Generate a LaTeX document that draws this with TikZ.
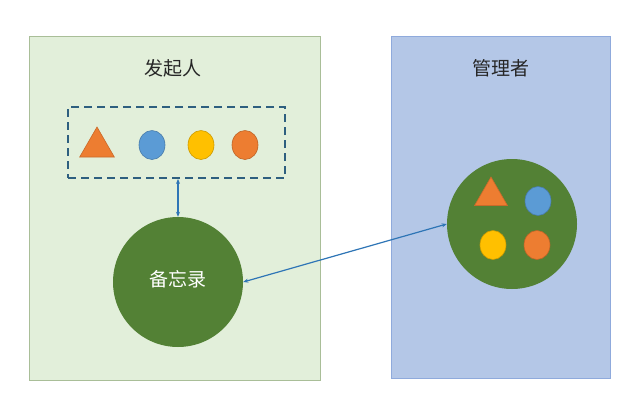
\documentclass[tikz,border=0pt]{standalone}
\usepackage{fontspec}
\newfontfamily\cjk{Noto Sans CJK SC}
\usetikzlibrary{arrows.meta,shapes.geometric}
\definecolor{panelg}{HTML}{E2EFDA}
\definecolor{panelgb}{HTML}{A9BE98}
\definecolor{panelb}{HTML}{B4C7E7}
\definecolor{panelbb}{HTML}{8FAADC}
\definecolor{dgreen}{HTML}{538135}
\definecolor{oran}{HTML}{ED7D31}
\definecolor{blu}{HTML}{5B9BD5}
\definecolor{yel}{HTML}{FFC000}
\definecolor{dashc}{HTML}{2E5F7F}
\definecolor{arrc}{HTML}{2E75B6}
\definecolor{txt}{HTML}{262626}
\tikzset{
  panel/.style={draw=#1, line width=1pt},
  title/.style={font=\cjk\fontsize{19}{21}\selectfont, text=txt},
  bigc/.style={circle, fill=dgreen, minimum size=130pt, inner sep=0pt},
  dot/.style={ellipse, minimum width=26pt, minimum height=29pt, inner sep=0pt, fill=#1, draw=#1!80!black, line width=0.6pt},
  tri/.style={regular polygon, regular polygon sides=3, fill=oran, draw=oran!85!black, inner sep=0pt, minimum size=40pt, line width=0.6pt},
  link/.style={draw=arrc, line width=1.2pt, {Stealth[length=5pt,width=4pt]}-{Stealth[length=5pt,width=4pt]}}
}
\begin{document}
\begin{tikzpicture}[x=1pt,y=-1pt]
\useasboundingbox (0,0) rectangle (640,407);
\fill[white] (0,0) rectangle (640,407);
% panels
\filldraw[fill=panelg, panel=panelgb] (29,36) rectangle (320,380);
\filldraw[fill=panelb, panel=panelbb] (391,36) rectangle (610,378);
\node[title] (t1) at (173,68) {发起人};
\node[title] (t2) at (501,68) {管理者};
% dashed box
\node[draw=dashc, dash pattern=on 8pt off 5pt, line width=1.8pt, minimum width=217pt, minimum height=71pt, inner sep=0pt] (box) at (176.5,142.5) {};
\node[tri] (a1) at (97,147) {};
\node[dot=blu] (a2) at (152,145) {};
\node[dot=yel] (a3) at (201,145) {};
\node[dot=oran] (a4) at (245,145) {};
% memo circle
\node[bigc, font=\cjk\fontsize{19}{21}\selectfont, text=white] (memo) at (178,282) {};
\node[font=\cjk\fontsize{19}{21}\selectfont, text=white] (memot) at (178,279) {备忘录};
% caretaker circle
\node[bigc] (care) at (512,224) {};
\node[tri, minimum size=38pt] (b1) at (491,196) {};
\node[dot=blu] (b2) at (538,201) {};
\node[dot=yel] (b3) at (493,245) {};
\node[dot=oran] (b4) at (537,245) {};
% links
\draw[link] (box.south -| memo.north) -- (memo.north);
\draw[link] (memo.east) -- (care.west);
\end{tikzpicture}
\end{document}
